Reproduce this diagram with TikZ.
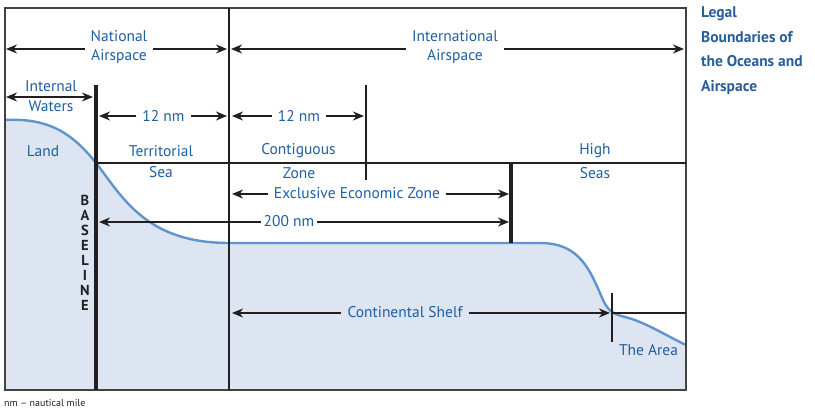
\documentclass[tikz,border=0pt]{standalone}
\usepackage{fontspec}
\setmainfont{PT Sans}
\usetikzlibrary{arrows.meta}
\definecolor{txtblue}{HTML}{1F5EA3}
\definecolor{titleblue}{HTML}{2A5C97}
\definecolor{landfill}{HTML}{DCE5F1}
\definecolor{landline}{HTML}{6094CD}
\definecolor{ink}{HTML}{231F20}
\tikzset{
  lbl/.style={text=txtblue, font=\fontsize{15.5}{19}\selectfont, align=center, inner sep=0pt},
  gaplbl/.style={lbl, inner xsep=6pt},
  arr/.style={draw=ink, line width=2pt, -{Stealth[length=11pt,width=9pt,inset=3.5pt]}},
  plainln/.style={draw=ink, line width=1.9pt},
  thickln/.style={draw=ink, line width=3.3pt},
}
\begin{document}
\begin{tikzpicture}[x=1pt,y=-1pt]
\useasboundingbox (0,0) rectangle (815,419);
\def\landpath{(5,120) .. controls (45,118) and (70,130) .. (96,163)
  .. controls (122,196) and (145,243) .. (229,243) -- (540,243)
  .. controls (580,243) and (590,270) .. (603,300)
  .. controls (608,310) and (612,314) .. (625,317)
  .. controls (645,322) and (665,335) .. (686,345)}
\fill[landfill] \landpath -- (686,390) -- (5,390) -- cycle;
\draw[landline, line width=2.4pt] \landpath;

% frame and boundary lines
\coordinate (tl) at (5,8);
\coordinate (br) at (686,390);
\draw[draw=ink!85, line width=1.5pt] (tl) rectangle (br);
\coordinate (natTop) at (229,8);
\coordinate (natBot) at (229,390);
\draw[plainln] (natTop) -- (natBot);
\coordinate (blTop) at (96,85);
\coordinate (blBot) at (96,390);
\draw[thickln] (blTop) -- (blBot);
\coordinate (hzL) at (96,163);
\coordinate (hzR) at (686,163);
\draw[plainln] (hzL) -- (hzR);
\coordinate (czTop) at (366,85);
\coordinate (czBot) at (366,180);
\draw[plainln] (czTop) -- (czBot);
\coordinate (eezTop) at (511,163);
\coordinate (eezBot) at (511,243);
\draw[thickln] (eezTop) -- (eezBot);
\coordinate (areaTop) at (612,293);
\coordinate (areaBot) at (612,342);
\draw[plainln] (areaTop) -- (areaBot);
\coordinate (areaL) at (612,313);
\coordinate (areaR) at (686,313);
\draw[plainln] (areaL) -- (areaR);

% National Airspace
\node[gaplbl] (nat) at (119,47) {National\\Airspace};
\coordinate (natL) at (6,49);
\coordinate (natR) at (227,49);
\draw[arr] (nat.west |- natL) -- (natL);
\draw[arr] (nat.east |- natR) -- (natR);

% International Airspace
\node[gaplbl] (intl) at (455,47.5) {International\\Airspace};
\coordinate (intlL) at (231,49);
\coordinate (intlR) at (684,49);
\draw[arr] (intl.west |- intlL) -- (intlL);
\draw[arr] (intl.east |- intlR) -- (intlR);

% Internal Waters
\node[lbl, font=\fontsize{15.5}{20}\selectfont] (iw) at (51,96) {Internal\\Waters};
\coordinate (iwL) at (6,97);
\coordinate (iwR) at (93,97);
\draw[arr, line width=2.8pt, {Stealth[length=11pt,width=9pt,inset=3.5pt]}-{Stealth[length=11pt,width=9pt,inset=3.5pt]}] (iwL) -- (iwR);

% 12 nm (territorial)
\node[gaplbl] (tw) at (163.5,116) {12 nm};
\coordinate (twL) at (99,116);
\coordinate (twR) at (227,116);
\draw[arr] (tw.west) -- (twL);
\draw[arr] (tw.east) -- (twR);

% 12 nm (contiguous)
\node[gaplbl] (cw) at (299,116) {12 nm};
\coordinate (cwL) at (232,116);
\coordinate (cwR) at (364,116);
\draw[arr] (cw.west) -- (cwL);
\draw[arr] (cw.east) -- (cwR);

% Exclusive Economic Zone
\node[gaplbl] (eez) at (357,193) {Exclusive Economic Zone};
\coordinate (eezL) at (232,194);
\coordinate (eezR) at (509,194);
\draw[arr] (eez.west |- eezL) -- (eezL);
\draw[arr] (eez.east |- eezR) -- (eezR);

% 200 nm
\node[lbl, inner xsep=3pt] (two) at (289,221) {200 nm};
\coordinate (twoL) at (99,222);
\coordinate (twoR) at (509,222);
\draw[arr] (two.west |- twoL) -- (twoL);
\draw[arr] (two.east |- twoR) -- (twoR);

% Continental Shelf
\node[gaplbl] (cs) at (405,312) {Continental Shelf};
\coordinate (csL) at (232,313);
\coordinate (csR) at (610,313);
\draw[arr] (cs.west |- csL) -- (csL);
\draw[arr] (cs.east |- csR) -- (csR);

% zone labels
\node[lbl] (land) at (43,151) {Land};
\node[lbl] (terr) at (161,151) {Territorial};
\node[lbl] (sea) at (161,172.5) {Sea};
\node[lbl] (cont) at (298.5,151) {Contiguous};
\node[lbl] (zone) at (299,173) {Zone};
\node[lbl] (high) at (595,151) {High};
\node[lbl] (seas) at (595,173) {Seas};
\node[lbl] (area) at (648.5,350) {The Area};

% BASELINE
\node[text=ink, font=\bfseries\fontsize{14.5}{15}\selectfont, align=center, inner sep=0pt] (bl) at (85,252.5) {B\\A\\S\\E\\L\\I\\N\\E};

% title
\node[text=titleblue, font=\bfseries\fontsize{15.5}{24.6}\selectfont, align=left, anchor=north west, inner sep=0pt] (title) at (701,6.5) {Legal\\Boundaries of\\the Oceans and\\Airspace};

% footnote
\node[text=ink, font=\fontsize{10}{11}\selectfont, anchor=west, inner sep=0pt] (foot) at (4,403) {nm – nautical mile};
\end{tikzpicture}
\end{document}
